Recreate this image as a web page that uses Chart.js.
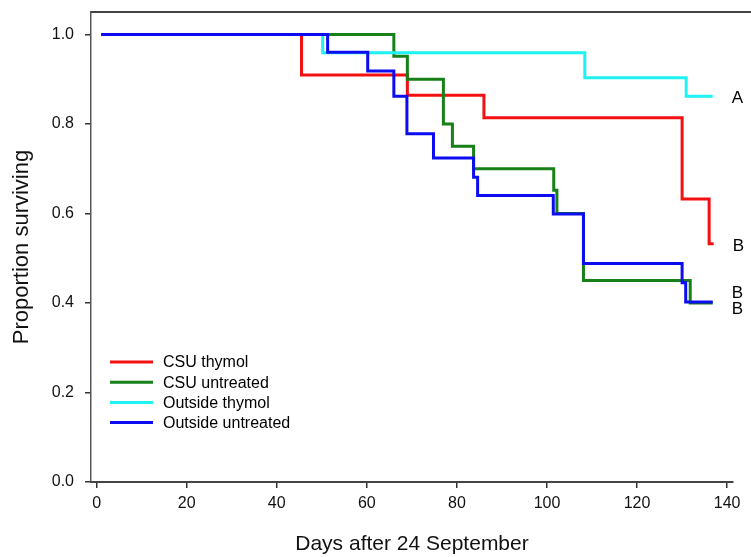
<!DOCTYPE html>
<html>
<head>
<meta charset="utf-8">
<title>Proportion surviving</title>
<script src="https://cdn.jsdelivr.net/npm/chart.js@4.4.1/dist/chart.umd.min.js"></script>
<style>
  html, body { margin: 0; padding: 0; background: #fff; }
  #wrap { width: 751px; height: 557px; }
</style>
</head>
<body>
<div id="wrap"><canvas id="myChart" width="751" height="557"></canvas></div>
<script>
// Kaplan-Meier style survival curves
const seriesNames = ['CSU thymol', 'CSU untreated', 'Outside thymol', 'Outside untreated'];
const seriesColors = ['#f21010', '#178017', '#1ff2f2', '#0c0cf0'];
const endLetters = ['B', 'B', 'A', 'B'];

const csuThymolDays = [1, 45.5, 69, 86, 130, 136, 137];
const csuThymolSurv = [1, 0.909, 0.864, 0.814, 0.632, 0.532, 0.532];

const csuUntreatedDays = [1, 66, 69, 77, 79, 83.7, 101.5, 102.2, 108.1, 131.8, 136.8];
const csuUntreatedSurv = [1, 0.951, 0.9, 0.8, 0.75, 0.7, 0.652, 0.6, 0.45, 0.4, 0.4];

const outsideThymolDays = [1, 50.2, 108.4, 130.9, 136.8];
const outsideThymolSurv = [1, 0.959, 0.903, 0.862, 0.862];

const outsideUntreatedDays = [1, 51.3, 60.2, 66, 68.9, 74.8, 83.7, 84.6, 101.4, 108.1, 130, 130.8, 136.8];
const outsideUntreatedSurv = [1, 0.96, 0.918, 0.862, 0.778, 0.724, 0.681, 0.64, 0.599, 0.488, 0.445, 0.402, 0.402];

const xTicks = [0, 20, 40, 60, 80, 100, 120, 140];
const yTicks = [0, 0.2, 0.4, 0.6, 0.8, 1.0];

function toPoints(days, surv) {
    return days.map((d, i) => ({ x: d, y: surv[i] }));
}

const allDays = [csuThymolDays, csuUntreatedDays, outsideThymolDays, outsideUntreatedDays];
const allSurv = [csuThymolSurv, csuUntreatedSurv, outsideThymolSurv, outsideUntreatedSurv];
const drawOrder = [3, 2, 1, 0]; // blue on top, red at the bottom

const datasets = seriesNames.map((name, i) => ({
    label: name,
    data: toPoints(allDays[i], allSurv[i]),
    borderColor: seriesColors[i],
    backgroundColor: seriesColors[i],
    borderWidth: 3,
    stepped: 'before',
    pointRadius: 0,
    fill: false,
    order: drawOrder[i]
}));

const FONT = "'Liberation Sans', Arial, sans-serif";

// top frame line, letters at line ends and the legend inside the plot
const extras = {
    id: 'extras',
    afterDraw(chart) {
        const ctx = chart.ctx;
        const area = chart.chartArea;
        ctx.save();
        ctx.strokeStyle = '#444';
        ctx.lineWidth = 2;
        ctx.beginPath();
        ctx.moveTo(area.left, area.top);
        ctx.lineTo(chart.width, area.top);
        ctx.stroke();

        // letters
        const xs = chart.scales.x, ys = chart.scales.y;
        const nudge = [2, 6, 2, -9];
        ctx.fillStyle = '#000';
        ctx.font = '17px ' + FONT;
        ctx.textAlign = 'left';
        ctx.textBaseline = 'middle';
        endLetters.forEach((t, i) => {
            const d = allDays[i], s = allSurv[i];
            const px = xs.getPixelForValue(d[d.length - 1]) + 19;
            const py = ys.getPixelForValue(s[s.length - 1]) + nudge[i];
            ctx.fillText(t, px, py);
        });

        // legend
        ctx.font = '16px ' + FONT;
        seriesNames.forEach((name, i) => {
            const y = 362 + i * 20.2;
            ctx.strokeStyle = seriesColors[i];
            ctx.lineWidth = 3;
            ctx.beginPath();
            ctx.moveTo(110, y);
            ctx.lineTo(153, y);
            ctx.stroke();
            ctx.fillStyle = '#000';
            ctx.fillText(name, 163, y + 1);
        });
        ctx.restore();
    }
};

const ctx = document.getElementById('myChart').getContext('2d');
const myChart = new Chart(ctx, {
    type: 'line',
    data: { datasets: datasets },
    options: {
        responsive: false,
        animation: false,
        layout: { padding: { top: 12, right: 18, left: 0, bottom: 0 } },
        plugins: {
            legend: { display: false },
            tooltip: { enabled: false }
        },
        scales: {
            x: {
                type: 'linear',
                min: -1.24,
                max: 141.3,
                afterBuildTicks: (s) => { s.ticks = xTicks.map(v => ({ value: v })); },
                afterFit: (s) => { s.height = 75; s.paddingLeft = 0; s.paddingRight = 0; },
                grid: { drawOnChartArea: false, drawTicks: true, tickLength: 6, color: '#333', lineWidth: 1.5 },
                border: { color: '#444', width: 2 },
                ticks: { color: '#111', font: { family: FONT, size: 16 }, padding: 6, maxRotation: 0 },
                title: {
                    display: true,
                    text: 'Days after 24 September',
                    color: '#111',
                    font: { family: FONT, size: 21 },
                    padding: { top: 0, bottom: 0 }
                }
            },
            y: {
                type: 'linear',
                min: 0,
                max: 1.05,
                afterBuildTicks: (s) => { s.ticks = yTicks.map(v => ({ value: v })); },
                afterFit: (s) => { s.width = 91; s.paddingTop = 0; s.paddingBottom = 0; },
                grid: { drawOnChartArea: false, drawTicks: true, tickLength: 6, color: '#333', lineWidth: 1.5 },
                border: { color: '#555', width: 1.5 },
                ticks: {
                    color: '#111',
                    font: { family: FONT, size: 16 },
                    padding: 11,
                    callback: (v) => Number(v).toFixed(1)
                },
                title: {
                    display: true,
                    text: 'Proportion surviving',
                    color: '#111',
                    font: { family: FONT, size: 22 },
                    padding: { top: 9, bottom: 0 }
                }
            }
        }
    },
    plugins: [extras]
});
</script>
</body>
</html>
